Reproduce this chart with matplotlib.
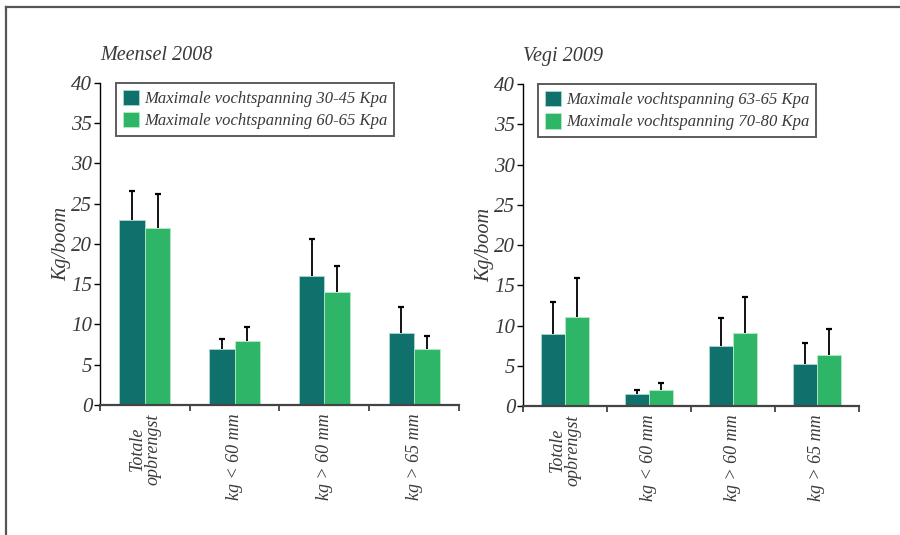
import matplotlib
matplotlib.use("Agg")
import matplotlib.pyplot as plt
from matplotlib.lines import Line2D
import numpy as np

# categories shared by both panels
categories = ["Totale\nopbrengst", "kg < 60 mm", "kg > 60 mm", "kg > 65 mm"]

# Meensel 2008
meensel_labels = ["Maximale vochtspanning 30-45 Kpa", "Maximale vochtspanning 60-65 Kpa"]
meensel_low = [23, 7, 16, 9]
meensel_low_err = [3.6, 1.2, 4.6, 3.2]
meensel_high = [22, 8, 14, 7]
meensel_high_err = [4.2, 1.7, 3.3, 1.6]

# Vegi 2009
vegi_labels = ["Maximale vochtspanning 63-65 Kpa", "Maximale vochtspanning 70-80 Kpa"]
vegi_low = [9, 1.5, 7.5, 5.2]
vegi_low_err = [3.9, 0.5, 3.4, 2.6]
vegi_high = [11, 2.0, 9.1, 6.3]
vegi_high_err = [4.9, 0.9, 4.4, 3.3]

DARK = "#0f706c"
LIGHT = "#2fb567"
TEXT = "#3a3a3a"
FONT = "Liberation Serif"

plt.rcParams["font.family"] = FONT
plt.rcParams["font.style"] = "italic"


def upper_errors(ax, xs, ys, errs):
    # only the upper half of the error bar, like in the original
    tops = np.array(ys) + np.array(errs)
    ax.vlines(xs, ys, tops, color="black", lw=1.3, zorder=3)
    ax.plot(xs, tops, ls="none", marker="_", ms=5, mew=1.6, color="black", zorder=3)


def draw_panel(ax, title, labels, low, low_err, high, high_err):
    x = np.arange(len(categories))
    w = 0.285
    ax.bar(x - w / 2, low, w, color=DARK, edgecolor="#a9d9cf", linewidth=0.6,
           label=labels[0], zorder=2)
    ax.bar(x + w / 2, high, w, color=LIGHT, edgecolor="#b5ecc4", linewidth=0.6,
           label=labels[1], zorder=2)
    upper_errors(ax, x - w / 2, low, low_err)
    upper_errors(ax, x + w / 2, high, high_err)

    ax.set_xlim(-0.5, len(categories) - 0.5)
    ax.set_ylim(0, 40)
    ax.set_yticks(range(0, 41, 5))
    ax.set_xticks(np.arange(len(categories) + 1) - 0.5)
    ax.set_xticklabels([])
    ax.set_xticks(x, minor=True)
    ax.set_xticklabels(categories, minor=True, rotation=90, va="top", ha="center",
                       fontsize=13, color=TEXT, linespacing=0.9)
    ax.tick_params(axis="x", which="minor", length=0, pad=6)
    ax.tick_params(axis="x", which="major", length=4, width=1.2, color="#333333")
    ax.tick_params(axis="y", length=4, width=1.0, labelsize=15, labelcolor=TEXT, pad=1.5)

    ax.spines["top"].set_visible(False)
    ax.spines["right"].set_visible(False)
    ax.spines["left"].set_color("black")
    ax.spines["left"].set_linewidth(1.0)
    ax.spines["bottom"].set_color("#444444")
    ax.spines["bottom"].set_linewidth(1.6)

    ax.set_ylabel("Kg/boom", fontsize=14.5, color=TEXT, labelpad=0)
    ax.text(0.0, 1.055, title, transform=ax.transAxes, fontsize=14.5, color=TEXT,
            ha="left", va="bottom")

    leg = ax.legend(loc="upper left", bbox_to_anchor=(0.045, 1.0), fontsize=12,
                    frameon=True, fancybox=False, handlelength=1.0, handleheight=1.05,
                    handletextpad=0.3, borderpad=0.4, labelspacing=0.3,
                    borderaxespad=0.0)
    leg.get_frame().set_edgecolor("#333333")
    leg.get_frame().set_linewidth(1.4)
    for t in leg.get_texts():
        t.set_color(TEXT)


fig = plt.figure(figsize=(9, 5.35), dpi=100)
ax1 = fig.add_axes([0.111, 0.243, 0.399, 0.602])
ax2 = fig.add_axes([0.581, 0.241, 0.373, 0.602])

draw_panel(ax1, "Meensel 2008", meensel_labels, meensel_low, meensel_low_err,
           meensel_high, meensel_high_err)
draw_panel(ax2, "Vegi 2009", vegi_labels, vegi_low, vegi_low_err,
           vegi_high, vegi_high_err)

# frame lines at top and left of the figure
fig.add_artist(Line2D([6 / 900, 1.0], [1 - 7 / 535, 1 - 7 / 535], color="#555555", lw=1.6))
fig.add_artist(Line2D([6 / 900, 6 / 900], [0.0, 1 - 7 / 535], color="#555555", lw=1.6))

fig.savefig("out.png", dpi=100)
